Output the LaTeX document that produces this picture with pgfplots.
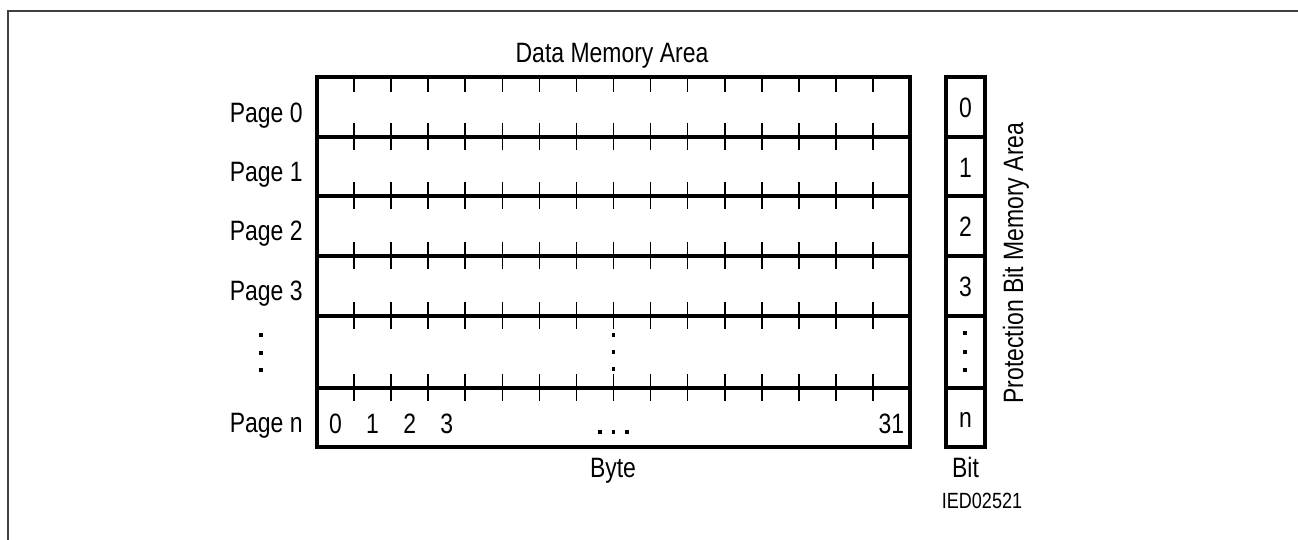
\documentclass[border=0pt]{standalone}
\usepackage{fontspec}
\setmainfont{Liberation Sans}[FakeStretch=0.82]
\usepackage{pgfplots}
\pgfplotsset{compat=1.18}
\tikzset{lbl/.style={font=\fontsize{14pt}{16pt}\selectfont, inner sep=0pt},
         sml/.style={font=\fontsize{11pt}{13pt}\selectfont, inner sep=0pt}}
\begin{document}
\begin{tikzpicture}
\begin{axis}[scale only axis, width=649pt, height=270pt,
  xmin=0, xmax=1298, ymin=0, ymax=540, y dir=reverse,
  hide axis, clip=false, unbounded coords=jump]
% invisible extent
\addplot[draw=none] coordinates {(0,0) (1298,540)};
% outer frame (top and left)
\addplot[line width=1pt, color=black!75, mark=none] coordinates {(8,540) (8,11) (1298,11)};
% data memory area box
\addplot[line width=2pt, black, mark=none, line join=miter] coordinates {(317,77) (910,77) (910,447) (317,447)} -- cycle;
\addplot[line width=2pt, black, mark=none] coordinates {
 (317,137) (910,137) (nan,nan)
 (317,196) (910,196) (nan,nan)
 (317,256) (910,256) (nan,nan)
 (317,316) (910,316) (nan,nan)
 (317,388) (910,388)};
% protection bit box
\addplot[line width=2pt, black, mark=none, line join=miter] coordinates {(946,77) (985,77) (985,447) (946,447)} -- cycle;
\addplot[line width=2pt, black, mark=none] coordinates {
 (946,137) (985,137) (nan,nan)
 (946,196) (985,196) (nan,nan)
 (946,256) (985,256) (nan,nan)
 (946,316) (985,316) (nan,nan)
 (946,388) (985,388)};
% byte ticks
\pgfplotsinvokeforeach{354.1,391.1,428.2,465.2,502.3,539.4,576.4,613.5,650.6,687.6,724.7,761.7,798.8,835.9,872.9}{
\addplot[line width=0.8pt, black, mark=none] coordinates {
 (#1,77) (#1,92) (nan,nan)
 (#1,123) (#1,150) (nan,nan)
 (#1,182) (#1,209) (nan,nan)
 (#1,242) (#1,269) (nan,nan)
 (#1,302) (#1,329) (nan,nan)
 (#1,374) (#1,401)};
}
% ellipsis dots
\addplot[only marks, mark=square*, mark size=0.6pt, black] coordinates {
 (613.5,335) (613.5,352) (613.5,369)
 (261,335) (261,353) (261,370)
 (965,333) (965,352) (965,370)
 (600,432) (613.5,432) (627,432)};
% labels
\node[lbl, anchor=base] at (axis cs:612,63) {Data Memory Area};
\node[lbl, anchor=base east] at (axis cs:303,123) {Page 0};
\node[lbl, anchor=base east] at (axis cs:303,182) {Page 1};
\node[lbl, anchor=base east] at (axis cs:303,241) {Page 2};
\node[lbl, anchor=base east] at (axis cs:303,300) {Page 3};
\node[lbl, anchor=base east] at (axis cs:303,432) {Page n};
\node[lbl, anchor=base] at (axis cs:335.5,433) {0};
\node[lbl, anchor=base] at (axis cs:372.6,433) {1};
\node[lbl, anchor=base] at (axis cs:409.7,433) {2};
\node[lbl, anchor=base] at (axis cs:446.7,433) {3};
\node[lbl, anchor=base] at (axis cs:891.4,433) {31};
\node[lbl, anchor=base] at (axis cs:613,477) {Byte};
\node[lbl, anchor=base] at (axis cs:965.5,118) {0};
\node[lbl, anchor=base] at (axis cs:965.5,178) {1};
\node[lbl, anchor=base] at (axis cs:965.5,237) {2};
\node[lbl, anchor=base] at (axis cs:965.5,297) {3};
\node[lbl, anchor=base] at (axis cs:965.5,428) {n};
\node[lbl, anchor=base] at (axis cs:965.5,477) {Bit};
\node[sml, anchor=base] at (axis cs:982,508) {IED02521};
\node[lbl, anchor=base, rotate=90] at (axis cs:1023,263) {Protection Bit Memory Area};
\end{axis}
\pgfresetboundingbox
\useasboundingbox (current axis.south west) rectangle (current axis.north east);
\end{tikzpicture}
\end{document}
